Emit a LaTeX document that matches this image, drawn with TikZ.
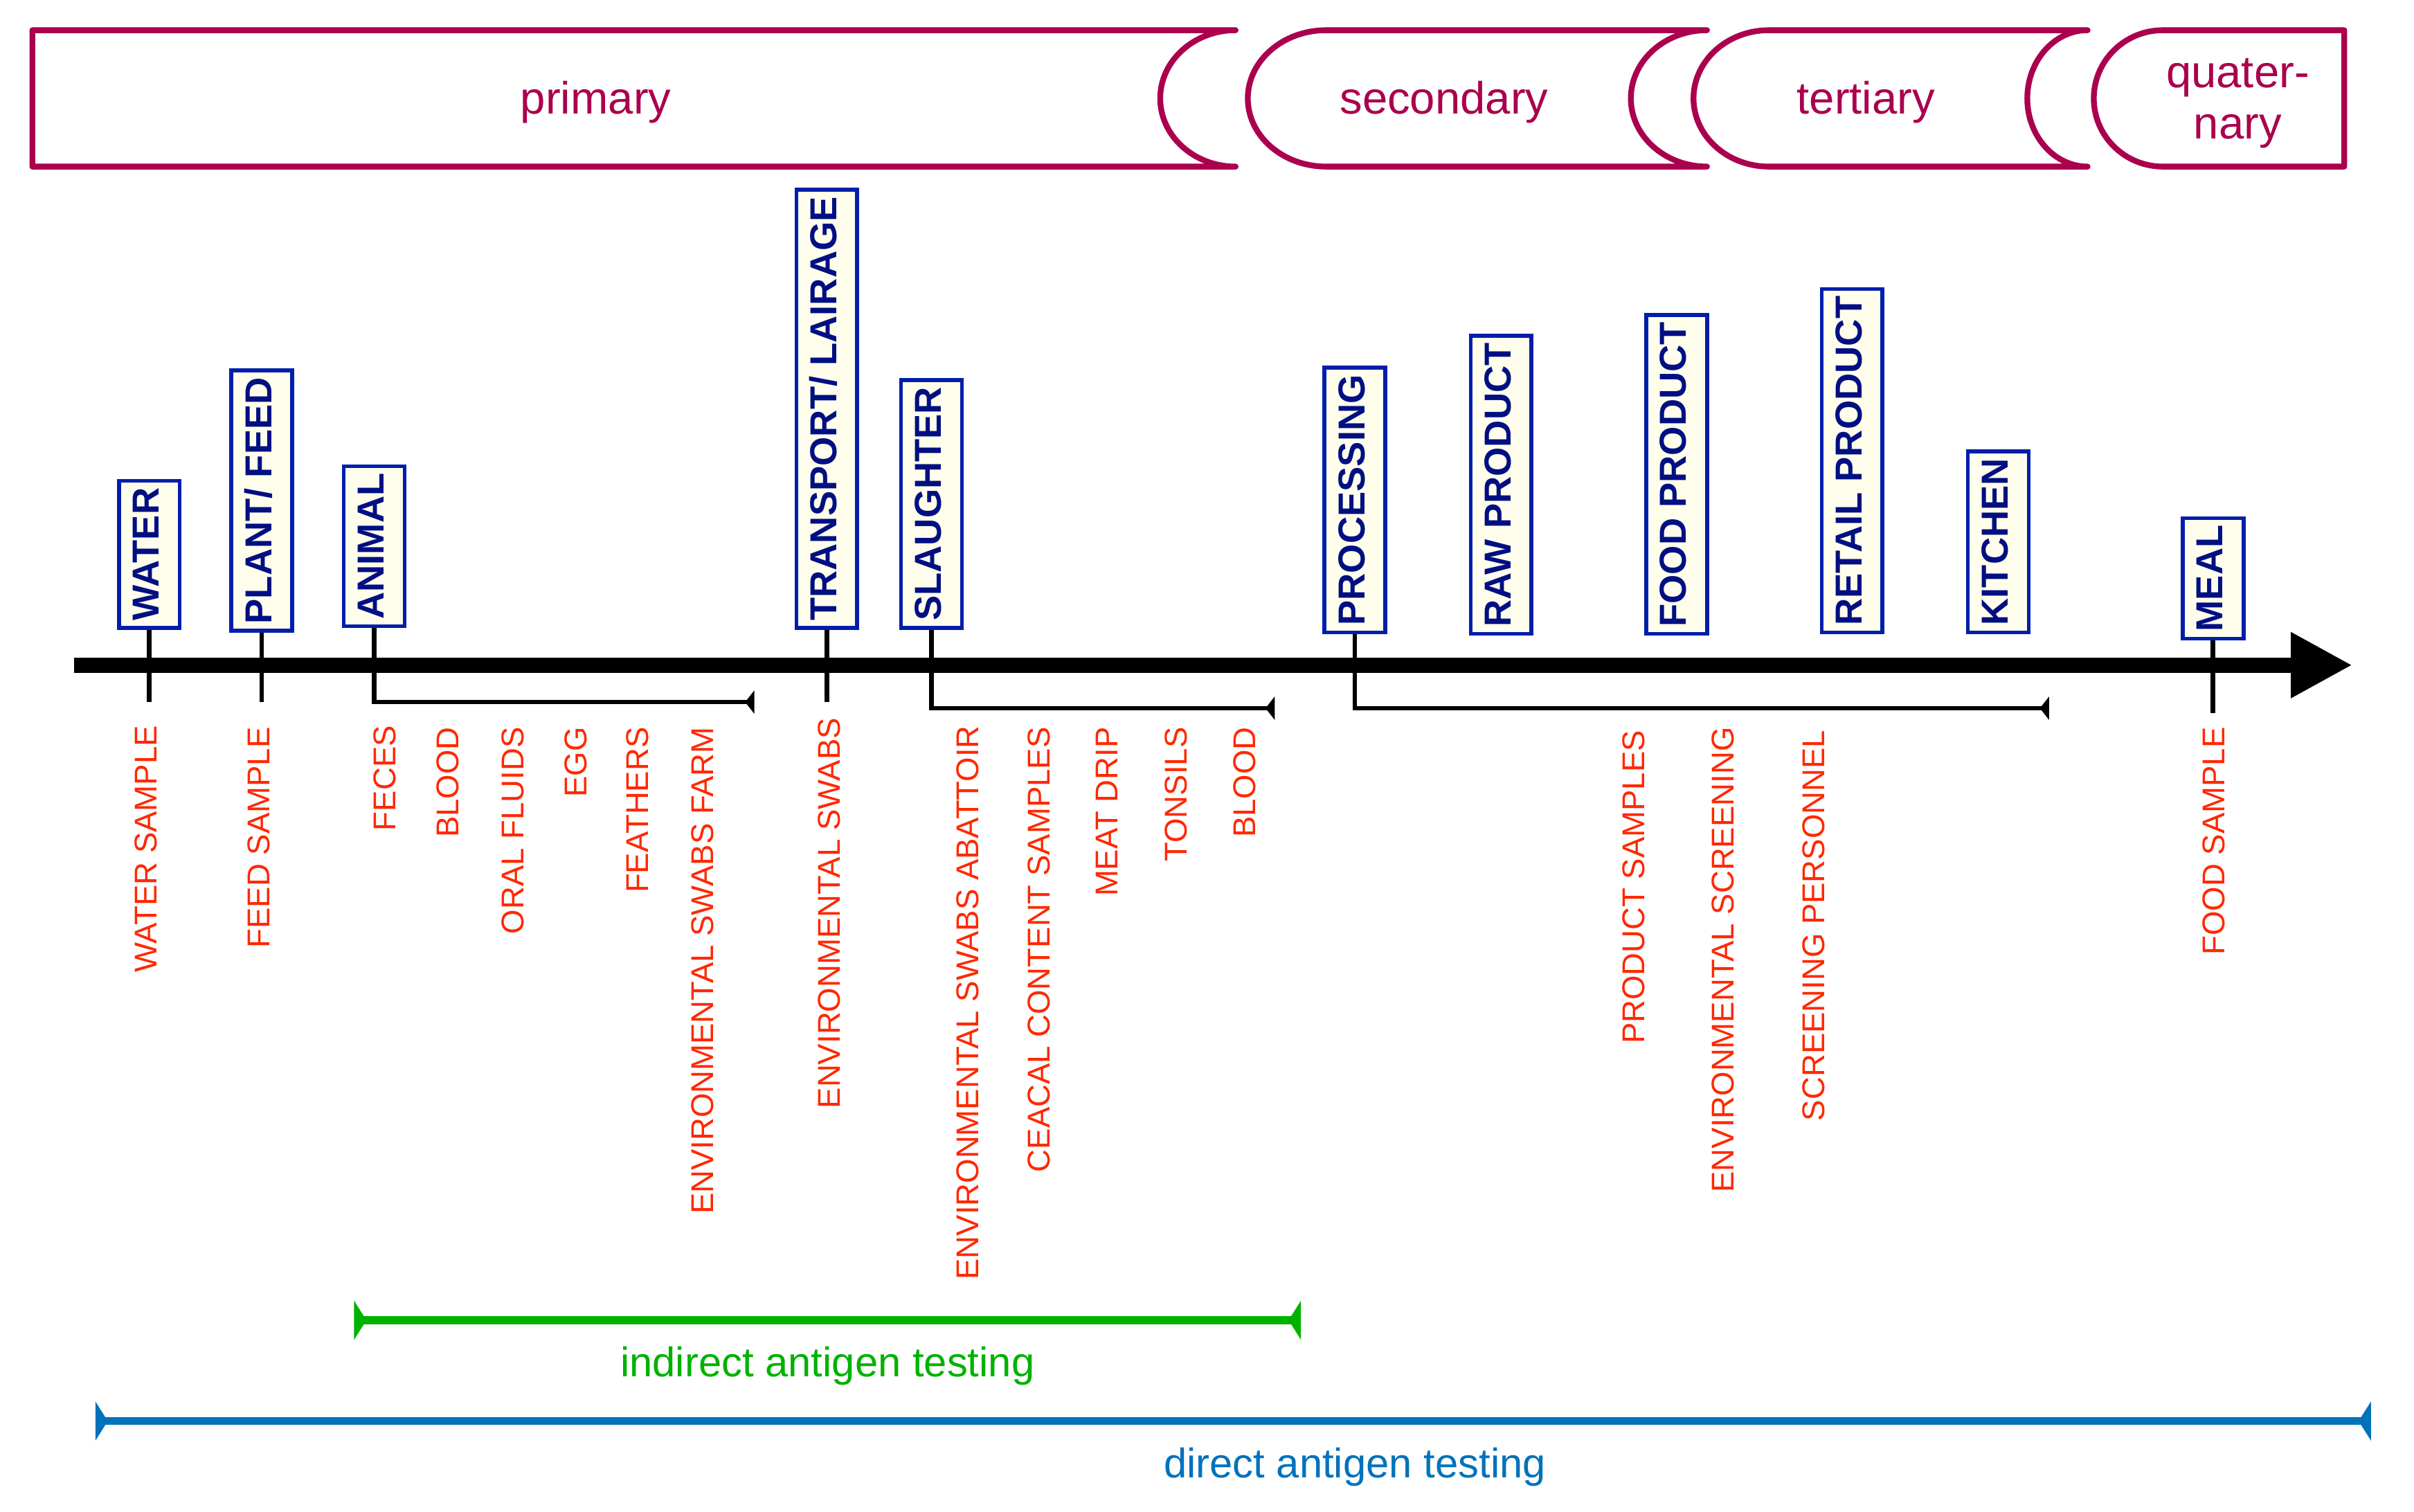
\documentclass[tikz,border=0pt]{standalone}
\usepackage{fontspec}
\setmainfont{Liberation Sans}
\usepackage{xcolor}
\usepackage{tikz}
\usetikzlibrary{shapes,arrows,positioning,calc,arrows.meta}

\definecolor{phasecol}{RGB}{170,0,78}
\definecolor{stageline}{RGB}{0,30,170}
\definecolor{stagetext}{RGB}{0,15,130}
\definecolor{stagefill}{RGB}{255,254,236}
\definecolor{samplecol}{RGB}{255,40,0}
\definecolor{indirectcol}{RGB}{0,178,0}
\definecolor{directcol}{RGB}{0,114,188}

\tikzset{
  stage/.style={draw=stageline, fill=stagefill, line width=0.5mm, rotate=90, anchor=west,
    text=stagetext, font=\fontsize{13.9}{16}\selectfont\bfseries,
    inner xsep=0.9mm, inner ysep=0pt, minimum height=7.9mm, text height=0.72em, text depth=0pt},
  sample/.style={text=samplecol, rotate=90, anchor=east, inner sep=0pt,
    font=\fontsize{11.65}{13}\selectfont},
  phase/.style={draw=phasecol, line width=0.75mm, line join=round},
  phasetext/.style={text=phasecol, font=\fontsize{16.7}{18.8}\selectfont},
  testtext/.style={font=\fontsize{15.3}{18}\selectfont, anchor=base},
  tick/.style={line width=0.6mm},
  bracket/.style={line width=0.6mm, -{Triangle[reversed, length=1.2mm, width=3mm]}},
  testbar/.style={line width=1mm,
    {Triangle[reversed, length=1.6mm, width=5mm]}-{Triangle[reversed, length=1.6mm, width=5mm]}},
}

\begin{document}
\begin{tikzpicture}[x=0.2mm, y=-0.2mm]
    \path[use as bounding box, fill=white] (0,0) rectangle (1568,982);

    % Phases
    \draw[phase] (21,19.6) -- (802.6,19.6) .. controls (775.6,19.6) and (753.6,39.4) .. (753.6,63.9)
        .. controls (753.6,88.4) and (775.6,108.2) .. (802.6,108.2) -- (21,108.2) -- cycle;
    \draw[phase] (861.5,19.6) -- (1108.8,19.6) .. controls (1081.5,19.6) and (1059.3,39.4) .. (1059.3,63.9)
        .. controls (1059.3,88.4) and (1081.5,108.2) .. (1108.8,108.2) -- (861.5,108.2)
        .. controls (833.3,108.2) and (810.5,88.4) .. (810.5,63.9)
        .. controls (810.5,39.4) and (833.3,19.6) .. (861.5,19.6) -- cycle;
    \draw[phase] (1149,19.6) -- (1356,19.6) .. controls (1334.4,19.6) and (1316.8,39.4) .. (1316.8,63.9)
        .. controls (1316.8,88.4) and (1334.4,108.2) .. (1356,108.2) -- (1149,108.2)
        .. controls (1122,108.2) and (1100,88.4) .. (1100,63.9)
        .. controls (1100,39.4) and (1122,19.6) .. (1149,19.6) -- cycle;
    \draw[phase] (1405,19.6) -- (1522.7,19.6) -- (1522.7,108.2) -- (1405,108.2)
        .. controls (1380.1,108.2) and (1360,88.4) .. (1360,63.9)
        .. controls (1360,39.4) and (1380.1,19.6) .. (1405,19.6) -- cycle;
    \node[phasetext, anchor=base] (primary) at (387,74) {primary};
    \node[phasetext, anchor=base] (secondary) at (938,74) {secondary};
    \node[phasetext, anchor=base] (tertiary) at (1212,74) {tertiary};
    \node[phasetext, align=center] (quaternary) at (1453.5,67) {quater-\\nary};

    % Timeline
    \coordinate (tl-start) at (48,432);
    \coordinate (tl-end) at (1528,432);
    \draw[line width=2mm, -{Triangle[length=8mm, width=8mm]}] (tl-start) -- (tl-end);

    % Stages
    \node[stage] (water) at (97,409) {WATER};
    \node[stage] (feed) at (170,411) {PLANT/ FEED};
    \node[stage] (animal) at (243,408) {ANIMAL};
    \node[stage] (transport) at (537,409) {TRANSPORT/ LAIRAGE};
    \node[stage] (slaughter) at (605,409) {SLAUGHTER};
    \node[stage] (processing) at (880,412) {PROCESSING};
    \node[stage] (raw) at (975,413) {RAW PRODUCT};
    \node[stage] (food) at (1089,413) {FOOD PRODUCT};
    \node[stage] (retail) at (1203,412) {RETAIL PRODUCT};
    \node[stage] (kitchen) at (1298,412) {KITCHEN};
    \node[stage] (meal) at (1437.5,416) {MEAL};

    % Ticks and brackets
    \coordinate (water-end) at (97,456);
    \coordinate (feed-end) at (170,456);
    \coordinate (transport-end) at (537,456);
    \coordinate (meal-end) at (1437.5,463);
    \coordinate (animal-end) at (490,456);
    \coordinate (slaughter-end) at (828,460);
    \coordinate (processing-end) at (1331,460);
    \draw[tick] (water.west) -- (water-end);
    \draw[tick] (feed.west) -- (feed-end);
    \draw[tick] (transport.west) -- (transport-end);
    \draw[tick] (meal.west) -- (meal-end);
    \draw[bracket] (animal.west) |- (animal-end);
    \draw[bracket] (slaughter.west) |- (slaughter-end);
    \draw[bracket] (processing.west) |- (processing-end);

    % Samples
    \node[sample] (water-s) at (95,471) {WATER SAMPLE};
    \node[sample] (feed-s) at (168,472) {FEED SAMPLE};
    \node[sample] (feces) at (250,471) {FECES};
    \node[sample] (blood-a) at (291,472) {BLOOD};
    \node[sample] (oral) at (333,472) {ORAL FLUIDS};
    \node[sample] (egg) at (374,472) {EGG};
    \node[sample] (feathers) at (414,472) {FEATHERS};
    \node[sample] (farm) at (456.5,472) {ENVIRONMENTAL SWABS FARM};
    \node[sample] (swabs) at (538.5,466) {ENVIRONMENTAL SWABS};
    \node[sample] (abattoir) at (628.5,471) {ENVIRONMENTAL SWABS ABATTOIR};
    \node[sample] (ceacal) at (675,472) {CEACAL CONTENT SAMPLES};
    \node[sample] (drip) at (719,472) {MEAT DRIP};
    \node[sample] (tonsils) at (764,472) {TONSILS};
    \node[sample] (blood-s) at (808.5,472) {BLOOD};
    \node[sample] (product) at (1061,474) {PRODUCT SAMPLES};
    \node[sample] (screening) at (1119,472) {ENVIRONMENTAL SCREENING};
    \node[sample] (personnel) at (1178,474) {SCREENING PERSONNEL};
    \node[sample] (food-s) at (1438,472) {FOOD SAMPLE};

    % Testing ranges
    \coordinate (ind-a) at (230,857.5);
    \coordinate (ind-b) at (845,857.5);
    \coordinate (dir-a) at (62,923);
    \coordinate (dir-b) at (1540,923);
    \draw[testbar, indirectcol] (ind-a) -- (ind-b);
    \draw[testbar, directcol] (dir-a) -- (dir-b);
    \node[testtext, text=indirectcol] (indirect) at (537.5,894) {indirect antigen testing};
    \node[testtext, text=directcol] (direct) at (880,960) {direct antigen testing};
\end{tikzpicture}
\end{document}
